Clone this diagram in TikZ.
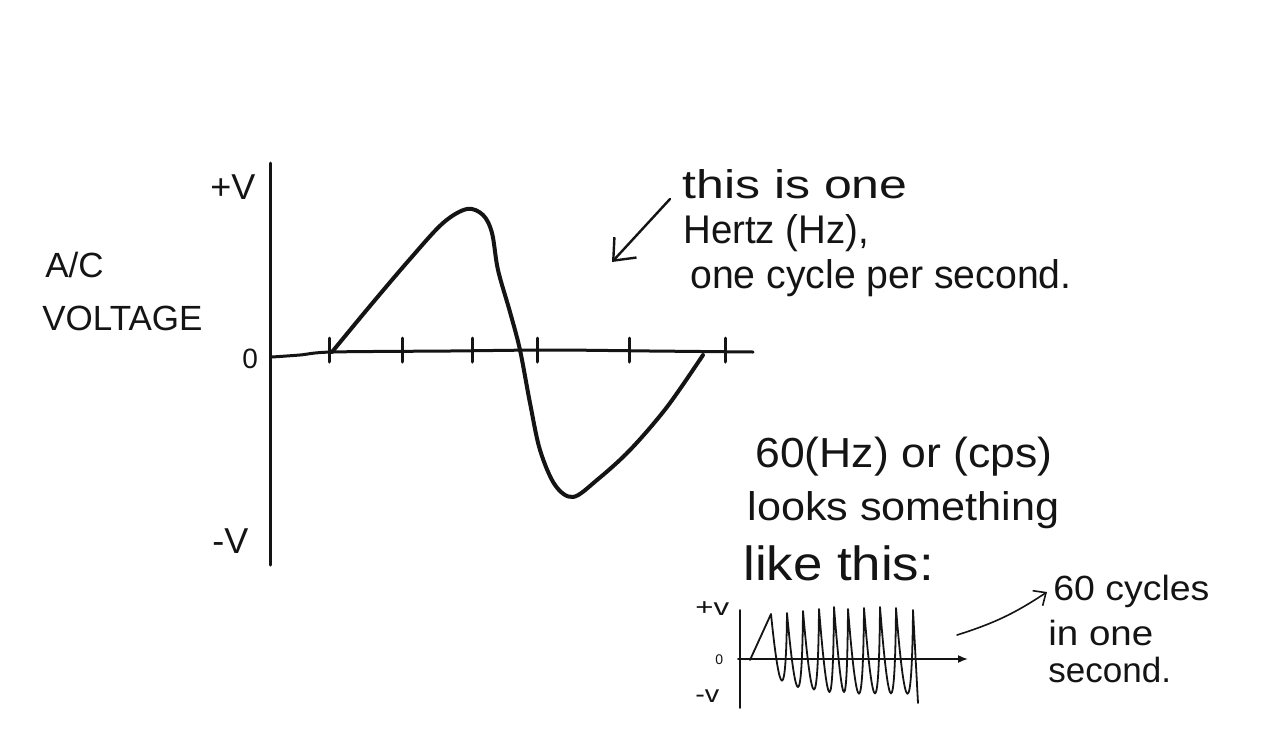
\documentclass[tikz,border=0pt]{standalone}
\usepackage{fontspec}
\setmainfont{Liberation Sans}
\usepackage{graphicx}
\usetikzlibrary{arrows.meta}
\newcommand{\hx}[2]{\scalebox{#1}[1]{#2}}
\newcommand{\fs}[1]{\fontsize{#1pt}{#1pt}\selectfont}
\definecolor{ink}{HTML}{141414}
\begin{document}
\begin{tikzpicture}[x=0.5pt,y=-0.5pt,
  axisline/.style={draw=ink, line width=1.5pt, line cap=round, line join=round},
  tickline/.style={draw=ink, line width=1.5pt, line cap=round},
  waveline/.style={draw=ink, line width=2pt, line cap=round, line join=round},
  thinline/.style={draw=ink, line width=0.8pt, line cap=round, line join=round},
  pointer/.style={draw=ink, line width=1pt, line cap=round},
  lbl/.style={inner sep=0pt, anchor=base west, text=ink}]
\fill[white] (0,0) rectangle (1269,734);
\useasboundingbox (0,0) rectangle (1269,734);

% ---- main axes ----
\draw[axisline] (270,163) -- (270,565);
\draw[axisline] plot[smooth] coordinates {(272,357) (300,355) (332,352) (450,351) (550,350) (650,351) (753,352)};
\foreach \x in {329,402,472,537,629,725} \draw[tickline] (\x,338) -- (\x,362);

% ---- one cycle ----
\draw[waveline] plot[smooth, tension=0.55] coordinates {
  (332,352) (370,306) (410,259) (443,223) (467,209) (483,215) (492,233)
  (498,270) (510,312) (520,350) (530,403) (540,450) (555,485) (573,497)
  (597,480) (630,450) (667,407) (703,355)};

% ---- main axis labels ----
\node[lbl, font=\fs{18}] (pv) at (210,199) {+V};
\node[lbl, font=\fs{14}] (zero) at (242,368) {0};
\node[lbl, font=\fs{18}] (mv) at (212,553) {-V};
\node[lbl, font=\fs{17.5}] (ac) at (45,277) {A/C};
\node[lbl, font=\fs{17.5}] (volt) at (42,330) {VOLTAGE};

% ---- annotation top right ----
\node[lbl, font=\fs{20}] (t1) at (682,198) {\hx{1.25}{this is one}};
\node[lbl, font=\fs{20}] (t2) at (683,243) {\hx{0.96}{Hertz (Hz),}};
\node[lbl, font=\fs{20}] (t3) at (690,288) {\hx{0.98}{one cycle per second.}};
\coordinate (a1s) at (670,199);
\coordinate (a1e) at (612,262);
\draw[pointer, line width=1.2pt, -{Straight Barb[length=9pt,width=15pt]}] (a1s) -- (a1e);

% ---- 60 Hz text ----
\node[lbl, font=\fs{21}] (s1) at (755,467) {\hx{1.06}{60(Hz) or (cps)}};
\node[lbl, font=\fs{20}] (s2) at (747,520) {\hx{1.08}{looks something}};
\node[lbl, font=\fs{24}] (s3) at (743,580) {\hx{1.1}{like this:}};

% ---- small graph ----
\draw[thinline] (740,610) -- (740,708);
\draw[thinline, -{Latex[length=5pt,width=4pt]}] (738,659) -- (968,659);
\node[lbl, font=\fs{12}] (spv) at (695,615) {\hx{1.3}{+v}};
\node[lbl, font=\fs{7}] (sz) at (715,664) {0};
\node[lbl, font=\fs{12}] (smv) at (695,702) {\hx{1.2}{-v}};
\draw[thinline, line width=0.9pt] (750,660) -- (771,614)
  .. controls (780,703) and (786,703) .. (787,613)
  .. controls (796,712) and (802,712) .. (803,611)
  .. controls (812,716) and (818,716) .. (819,609)
  .. controls (828,720) and (833,720) .. (834,607)
  .. controls (843,720) and (847,720) .. (848,609)
  .. controls (857,722) and (863,722) .. (864,608)
  .. controls (873,722) and (879,722) .. (880,607)
  .. controls (889,722) and (895,722) .. (896,608)
  .. controls (905,722) and (912,722) .. (913,610)
  -- (918,703);

% ---- 60 cycles note ----
\node[lbl, font=\fs{17.5}] (c1) at (1053,600) {\hx{1.07}{60 cycles}};
\node[lbl, font=\fs{17.5}] (c2) at (1048,645) {\hx{1.1}{in one}};
\node[lbl, font=\fs{17.5}] (c3) at (1048,682) {second.};
\coordinate (a2s) at (957,635);
\coordinate (a2e) at (1047,592);
\draw[pointer, line width=0.8pt, -{Straight Barb[length=5pt,width=9pt]}] (a2s) to[bend right=8] (a2e);
\end{tikzpicture}
\end{document}
